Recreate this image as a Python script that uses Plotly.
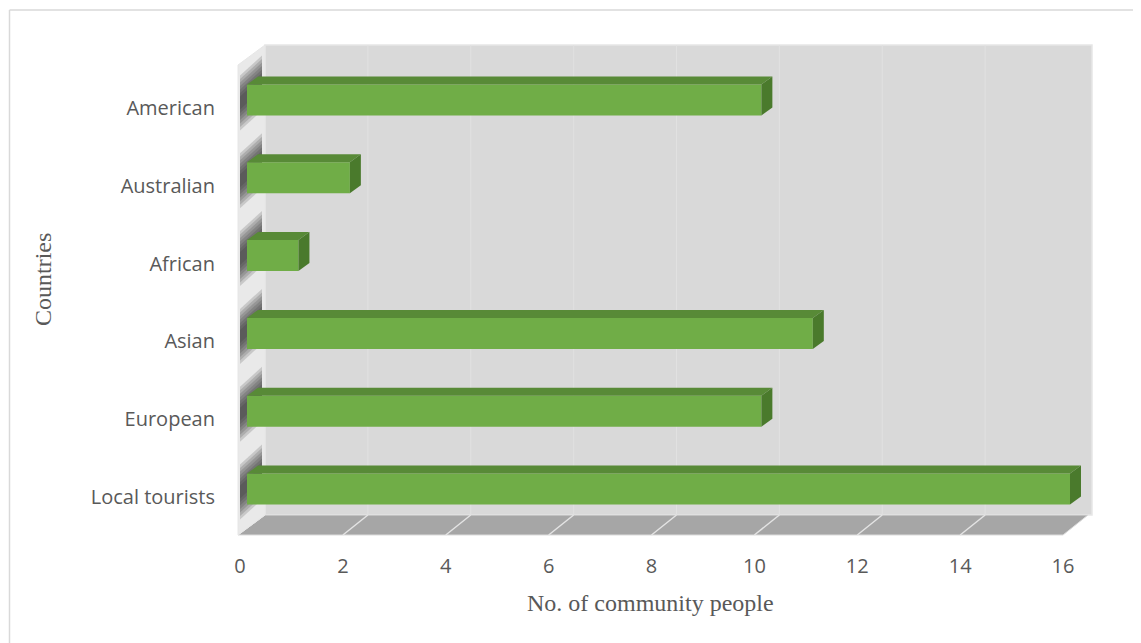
import plotly.graph_objects as go

# ---------------- data ----------------
categories = ["Local tourists", "European", "Asian", "African", "Australian", "American"]
values = [16, 10, 11, 1, 2, 10]
x_ticks = [0, 2, 4, 6, 8, 10, 12, 14, 16]
x_title = "No. of community people"
y_title = "Countries"

# ---------------- geometry (reference-pixel layout helpers) ----------------
OFF = 8                       # page body margin of the browser
W_REF, H_REF = 1141, 643
W_FIG, H_FIG = W_REF - OFF, H_REF - OFF
L, R, T, B = 222, 1100, 40, 548   # plot area in reference pixels
SX = 823 / 16.0          # px per value unit
SY = 77.8                # px per category step
X0PX = 240               # pixel of value 0 on the front plane
Y0PX = 497               # pixel of first category label


def xd(dpx):
    return dpx / SX


def yd(dpx):
    return dpx / SY


x_range = [(L - X0PX) / SX, (R - X0PX) / SX]
y_range = [(Y0PX - B) / SY, (Y0PX - T) / SY]

DX = xd(25)      # full depth offset in x
DY = yd(20)      # full depth offset in y
FLOOR_Y = (Y0PX - 535) / SY
WALL_TOP = (Y0PX - 45) / SY
XMAX = max(x_ticks)

shapes = []


def poly(pts, fill, line_color=None, line_width=0, layer="below", opacity=1.0):
    path = "M " + " L ".join(f"{x:.4f},{y:.4f}" for x, y in pts) + " Z"
    d = dict(type="path", path=path, xref="x", yref="y", fillcolor=fill,
             layer=layer, opacity=opacity,
             line=dict(width=line_width, color=line_color or "rgba(0,0,0,0)"))
    shapes.append(d)


def seg(x0, y0, x1, y1, color, width=1, layer="below"):
    shapes.append(dict(type="line", xref="x", yref="y", x0=x0, y0=y0, x1=x1, y1=y1,
                       layer=layer, line=dict(color=color, width=width)))


# back wall
poly([(DX, FLOOR_Y + DY), (XMAX + DX + xd(4), FLOOR_Y + DY),
      (XMAX + DX + xd(4), WALL_TOP), (DX, WALL_TOP)], "#d9d9d9",
     line_color="#e6e6e6", line_width=1.5)
for k in x_ticks[1:-1]:
    seg(k + DX, FLOOR_Y + DY, k + DX, WALL_TOP, "#e1e1e1", 1)

# floor
poly([(xd(-2), FLOOR_Y), (XMAX, FLOOR_Y), (XMAX + DX, FLOOR_Y + DY), (DX, FLOOR_Y + DY)],
     "#a6a6a6", line_color="#dcdcdc", line_width=1)
for k in x_ticks[1:-1]:
    seg(k, FLOOR_Y, k + DX, FLOOR_Y + DY, "#e4e4e4", 1.5)

# left wall
LW_X = xd(-2)
poly([(LW_X, FLOOR_Y), (DX, FLOOR_Y + DY), (DX, WALL_TOP), (LW_X, WALL_TOP - DY)],
     "#e9e9e9", line_color="#e6e6e6", line_width=1)

# bar geometry
BAR_OFF_X = xd(7)
BAR_OFF_Y = yd(8)
BAR_H = yd(31)
TOP_DX = xd(11)
TOP_DY = yd(8)

# soft shadows on the left wall
for i, v in enumerate(values):
    c = i + BAR_OFF_Y - yd(3)
    for kk in range(7):
        h = BAR_H / 2 + yd(12) - kk * yd(3.5)
        poly([(LW_X + xd(2), c - h), (LW_X + xd(2), c + h),
              (DX - xd(3), c + h + DY), (DX - xd(3), c - h + DY)],
             "rgba(40,40,40,0.17)")

# ---------------- figure ----------------
fig = go.Figure()
fig.add_trace(go.Bar(
    y=[i + BAR_OFF_Y for i in range(len(categories))],
    x=values,
    base=BAR_OFF_X,
    orientation="h",
    width=BAR_H,
    marker=dict(color="#70ad47", line=dict(width=0)),
    hoverinfo="skip",
))

# 3D top and side faces of bars
for i, v in enumerate(values):
    yc = i + BAR_OFF_Y
    yb, yt = yc - BAR_H / 2, yc + BAR_H / 2
    x0, x1 = BAR_OFF_X, BAR_OFF_X + v
    poly([(x0, yt), (x1, yt), (x1 + TOP_DX, yt + TOP_DY), (x0 + TOP_DX, yt + TOP_DY)],
         "#588a37", layer="above")
    poly([(x1, yb), (x1, yt), (x1 + TOP_DX, yt + TOP_DY), (x1 + TOP_DX, yb + TOP_DY)],
         "#4a7a2c", layer="above")

# outer border (top and left lines)
PW, PH = R - L, B - T
BX = 9.5
shapes.append(dict(type="line", xref="paper", yref="paper",
                   x0=(BX - L) / PW, y0=(B - 10) / PH, x1=(W_REF + 5 - L) / PW, y1=(B - 10) / PH,
                   line=dict(color="#d9d9d9", width=1.5)))
shapes.append(dict(type="line", xref="paper", yref="paper",
                   x0=(BX - L) / PW, y0=(B - 10) / PH, x1=(BX - L) / PW, y1=(B - H_REF - 5) / PH,
                   line=dict(color="#d9d9d9", width=1.5)))

fig.update_layout(
    width=W_FIG, height=H_FIG,
    margin=dict(l=L - OFF, r=W_REF - R, t=T - OFF, b=H_REF - B, pad=0),
    paper_bgcolor="white", plot_bgcolor="white",
    showlegend=False,
    shapes=shapes,
    font=dict(family="Open Sans", size=20, color="#595959"),
    xaxis=dict(range=x_range, tickmode="array", tickvals=x_ticks,
               ticktext=[str(t) for t in x_ticks],
               showgrid=False, zeroline=False, showline=False, ticks="",
               ticklabelstandoff=4, fixedrange=True),
    yaxis=dict(range=y_range, tickmode="array", tickvals=list(range(len(categories))),
               ticktext=categories, showgrid=False, zeroline=False, showline=False,
               ticks="", ticklabelstandoff=6, fixedrange=True),
    annotations=[
        dict(text=x_title, xref="paper", yref="paper",
             x=(650 - L) / PW, y=(B - 603) / PH, showarrow=False,
             font=dict(family="Liberation Serif", size=24, color="#595959"),
             xanchor="center", yanchor="middle"),
        dict(text=y_title, xref="paper", yref="paper",
             x=(43 - L) / PW, y=(B - 280) / PH, showarrow=False, textangle=-90,
             font=dict(family="Liberation Serif", size=24, color="#595959"),
             xanchor="center", yanchor="middle"),
    ],
)

fig.write_html("out.html")
